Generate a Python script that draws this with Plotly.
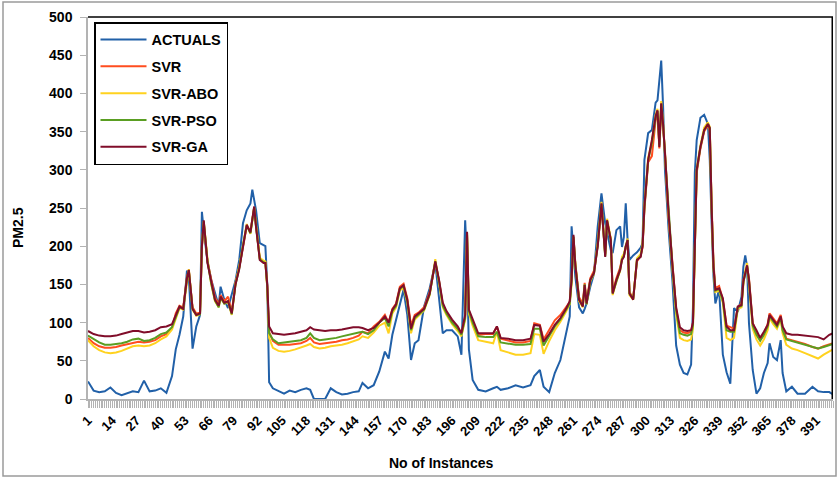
import plotly.graph_objects as go

# ---------------- data ----------------
instance = [
    1, 4, 7, 10, 13, 16, 19, 22, 25, 28, 31, 34, 37, 40, 43, 46,
    48, 50, 52, 54, 55, 57, 59, 61, 62, 63, 65, 67, 69, 71, 72, 74, 76, 78, 80, 82,
    84, 86, 88, 89, 90, 91, 93, 95, 96, 97, 98, 100,
    103, 106, 109, 112, 115, 118, 120, 122, 125, 128, 131, 134, 137, 140, 143, 146, 148, 151, 154, 157,
    160, 162, 164, 166, 168, 170, 172, 174, 176, 178, 181, 184, 187, 189, 191, 193, 196, 199, 201, 203,
    204, 205, 207, 210,
    214, 218, 220, 222, 226, 230, 234, 238, 240, 243, 245, 248, 251, 254, 257, 259,
    260, 261, 262, 264, 266, 267, 268, 270, 272, 274, 276, 278, 279, 281, 282, 284, 286, 287, 288, 289,
    290, 291, 293, 295, 297, 298, 299, 301, 303, 305, 306, 307, 308, 309, 310, 312, 314, 316, 318, 320,
    322, 324, 325, 326, 327, 329, 331, 333, 334, 335, 336, 337, 339, 341, 343, 345, 347, 349, 351, 352,
    353, 354, 355, 357, 359, 361, 363, 365, 366, 368, 370, 372, 373, 375, 378, 381, 385, 389, 392, 395,
    398, 400,
]

actuals = [
    23, 11, 9, 10, 15, 8, 5, 7, 10, 9, 24, 10, 11, 14, 8, 30,
    65, 84, 108, 168, 160, 66, 95, 110, 245, 220, 180, 156, 139, 122, 147, 130, 119, 139, 155, 182,
    230, 247, 256, 274, 262, 247, 204, 202, 200, 150, 22, 14,
    11, 7, 11, 9, 12, 14, 12, 0, 0, 0, 14, 9, 6, 7, 9, 10, 21, 14, 18, 36,
    62, 53, 84, 103, 125, 143, 110, 51, 73, 77, 121, 145, 178, 130, 86, 90, 90, 82, 58, 234,
    178, 65, 25, 12,
    10, 14, 16, 12, 14, 18, 15, 18, 30, 38, 16, 9, 34, 51, 86, 108,
    226, 186, 160, 120, 112, 118, 125, 147, 164, 226, 269, 230, 217, 195, 191, 221, 226, 199, 212, 256,
    208, 182, 188, 192, 198, 204, 313, 348, 352, 388, 391, 420, 443, 383, 300, 220, 155, 70, 45, 34,
    32, 45, 120, 296, 339, 368, 372, 360, 313, 230, 160, 125, 143, 58, 35, 20, 119, 114, 134, 173,
    188, 173, 99, 38, 7, 14, 34, 47, 73, 55, 51, 77, 34, 10, 16, 7, 7, 16, 10, 9,
    9, 6,
]

svr = [
    80, 73, 69, 67, 67, 68, 70, 72, 74, 75, 74, 75, 77, 82, 85, 93,
    112, 122, 120, 160, 168, 120, 112, 113, 198, 230, 180, 155, 133, 124, 136, 128, 134, 114, 152, 172,
    202, 226, 220, 233, 250, 226, 184, 180, 179, 148, 88, 76,
    71, 71, 71, 72, 73, 76, 80, 74, 72, 73, 74, 75, 77, 78, 80, 83, 88, 86, 95, 101,
    110, 100, 118, 125, 147, 151, 132, 96, 110, 113, 120, 140, 178, 155, 124, 113, 102, 92, 84, 108,
    215, 115, 100, 84,
    85, 85, 95, 79, 76, 74, 74, 76, 99, 97, 78, 90, 103, 110, 120, 127,
    162, 212, 178, 133, 125, 152, 128, 158, 168, 202, 252, 190, 230, 210, 140, 158, 172, 184, 188, 198,
    206, 140, 132, 180, 188, 198, 248, 310, 318, 365, 375, 328, 380, 355, 325, 238, 178, 118, 90, 87,
    86, 88, 100, 195, 296, 328, 350, 358, 352, 255, 178, 145, 148, 130, 96, 94, 92, 120, 125, 156,
    165, 172, 158, 100, 86, 78, 86, 98, 112, 105, 99, 110, 95, 79, 77, 75, 72, 68, 66, 69,
    71, 73,
]

svr_abo = [
    77, 69, 64, 61, 60, 61, 63, 66, 69, 70, 69, 70, 73, 78, 82, 91,
    106, 119, 117, 157, 170, 117, 109, 111, 202, 233, 183, 150, 128, 120, 132, 125, 127, 110, 151, 173,
    203, 229, 216, 236, 251, 228, 185, 181, 180, 146, 80, 67,
    63, 62, 63, 65, 67, 70, 72, 68, 66, 67, 69, 70, 71, 73, 75, 78, 82, 80, 87, 96,
    100, 86, 112, 120, 142, 146, 126, 86, 104, 109, 116, 136, 183, 152, 120, 110, 98, 89, 82, 104,
    217, 112, 96, 77,
    75, 73, 88, 64, 61, 58, 58, 60, 85, 84, 59, 76, 90, 101, 114, 124,
    150, 210, 176, 128, 120, 148, 124, 154, 164, 204, 258, 188, 236, 210, 136, 154, 168, 186, 190, 202,
    210, 136, 130, 184, 190, 204, 254, 316, 336, 372, 380, 335, 390, 362, 320, 236, 170, 110, 80, 77,
    76, 78, 92, 198, 302, 332, 355, 362, 356, 248, 170, 140, 142, 126, 80, 77, 80, 118, 120, 150,
    168, 178, 152, 92, 78, 70, 78, 90, 106, 98, 92, 104, 86, 71, 66, 64, 60, 56, 53, 58,
    62, 65,
]

svr_pso = [
    83, 78, 74, 71, 71, 72, 73, 75, 78, 79, 76, 77, 80, 85, 87, 94,
    108, 120, 118, 158, 168, 118, 110, 111, 200, 232, 180, 151, 129, 120, 133, 125, 128, 111, 150, 171,
    201, 227, 217, 234, 251, 226, 183, 179, 178, 147, 86, 78,
    73, 74, 75, 76, 77, 80, 86, 80, 77, 78, 79, 80, 82, 84, 85, 87, 88, 85, 90, 100,
    106, 95, 115, 122, 144, 148, 128, 90, 106, 110, 117, 137, 180, 154, 122, 112, 100, 92, 84, 106,
    218, 115, 100, 82,
    81, 81, 88, 74, 72, 71, 71, 72, 92, 92, 70, 82, 95, 104, 116, 125,
    155, 213, 176, 130, 122, 150, 124, 155, 165, 201, 255, 187, 233, 208, 138, 155, 169, 183, 187, 200,
    208, 138, 131, 182, 187, 201, 251, 312, 335, 368, 377, 332, 386, 358, 322, 238, 174, 116, 86, 84,
    83, 85, 96, 198, 299, 330, 352, 360, 354, 250, 172, 142, 144, 128, 90, 88, 88, 120, 122, 153,
    166, 174, 155, 96, 84, 76, 84, 95, 108, 101, 95, 106, 90, 78, 76, 74, 71, 68, 66, 68,
    70, 72,
]

svr_ga = [
    89, 85, 83, 82, 82, 83, 85, 87, 89, 89, 87, 88, 90, 94, 95, 98,
    110, 121, 118, 158, 169, 118, 110, 112, 200, 234, 178, 152, 130, 122, 134, 126, 128, 112, 150, 170,
    200, 228, 218, 235, 252, 225, 182, 178, 178, 150, 95, 86,
    85, 84, 85, 86, 88, 90, 94, 91, 90, 89, 90, 90, 91, 93, 94, 94, 93, 90, 93, 100,
    108, 100, 117, 124, 145, 149, 130, 92, 108, 112, 118, 138, 180, 156, 126, 115, 104, 95, 86, 110,
    219, 117, 104, 86,
    86, 86, 95, 80, 79, 77, 77, 79, 97, 96, 75, 85, 97, 106, 118, 128,
    156, 215, 175, 130, 121, 149, 125, 156, 165, 200, 256, 186, 234, 208, 138, 156, 169, 182, 186, 200,
    208, 138, 130, 182, 186, 200, 252, 313, 339, 370, 378, 330, 387, 360, 322, 240, 175, 120, 94, 90,
    89, 90, 100, 200, 300, 330, 352, 360, 355, 250, 173, 143, 145, 132, 95, 90, 90, 121, 123, 154,
    167, 175, 156, 99, 90, 80, 88, 97, 110, 103, 97, 108, 95, 86, 84, 84, 83, 82, 81, 78,
    84, 86,
]

x_tick_labels = ["1", "14", "27", "40", "53", "66", "79", "92", "105", "118", "131", "144",
                 "157", "170", "183", "196", "209", "222", "235", "248", "261", "274", "287",
                 "300", "313", "326", "339", "352", "365", "378", "391"]
y_tick_values = [0, 50, 100, 150, 200, 250, 300, 350, 400, 450, 500]

for name, arr in [("actuals", actuals), ("svr", svr), ("svr_abo", svr_abo),
                  ("svr_pso", svr_pso), ("svr_ga", svr_ga)]:
    if len(arr) != len(instance):
        raise ValueError(f"{name}: {len(arr)} vs {len(instance)}")

# ---------------- figure ----------------
FONT = "Liberation Sans, Arial, sans-serif"
W, H = 838, 478
ML, MR, MT, MB = 88, 5, 17, 79
PW, PH = W - ML - MR, H - MT - MB


def px_x(p):
    return (p - ML) / PW


def px_y(p):
    return (H - MB - p) / PH


series = [
    ("ACTUALS", actuals, "#2160a8"),
    ("SVR", svr, "#ff4d1f"),
    ("SVR-ABO", svr_abo, "#ffd21f"),
    ("SVR-PSO", svr_pso, "#5a9e22"),
    ("SVR-GA", svr_ga, "#800d2a"),
]

fig = go.Figure()
for i, (name, vals, col) in enumerate(series):
    fig.add_trace(go.Scatter(
        x=instance, y=vals, mode="lines", name=name,
        line=dict(color=col, width=2),
        legendgroup=f"g{i}",
    ))

fig.update_layout(
    width=W, height=H,
    margin=dict(l=ML, r=MR, t=MT, b=MB),
    paper_bgcolor="white", plot_bgcolor="white",
    font=dict(family=FONT, color="black"),
    showlegend=True,
    legend=dict(
        x=px_x(94), y=px_y(22), xanchor="left", yanchor="top",
        bgcolor="white", bordercolor="black", borderwidth=1.5,
        font=dict(family=FONT, size=14.5, color="black", weight="bold"),
        traceorder="grouped", tracegroupgap=5, itemwidth=46,
    ),
    xaxis=dict(
        range=[1, 400], showgrid=False, zeroline=False,
        showline=True, linecolor="#b3b3b3", linewidth=1.5,
        tickmode="array",
        tickvals=[int(v) for v in x_tick_labels], ticktext=x_tick_labels,
        tickangle=-45, ticks="outside", ticklen=7, tickcolor="#b3b3b3", tickwidth=1,
        tickfont=dict(family=FONT, size=13, color="black", weight="bold"),
        minor=dict(ticks="outside", dtick=1, tick0=1, ticklen=7, tickcolor="#b3b3b3", tickwidth=1),
    ),
    yaxis=dict(
        range=[0, 500], showgrid=False, zeroline=False,
        showline=True, linecolor="#b3b3b3", linewidth=1.5,
        tickmode="array", tickvals=y_tick_values,
        ticks="outside", ticklen=6, tickcolor="#b3b3b3", tickwidth=1,
        ticklabelstandoff=5,
        tickfont=dict(family=FONT, size=14, color="black", weight="bold"),
    ),
    shapes=[
        dict(type="rect", xref="paper", yref="paper",
             x0=px_x(3), x1=px_x(836), y0=px_y(476), y1=px_y(2),
             line=dict(color="#9a9a9a", width=1.5), fillcolor="rgba(0,0,0,0)", layer="below"),
        dict(type="line", xref="paper", yref="paper", x0=0, x1=1, y0=1, y1=1,
             line=dict(color="black", width=1.5)),
        dict(type="line", xref="paper", yref="paper", x0=0.999, x1=0.999, y0=0, y1=1,
             line=dict(color="black", width=1.5)),
    ],
    annotations=[
        dict(text="No of Instances", xref="paper", yref="paper",
             x=px_x(441), y=px_y(463), xanchor="center", yanchor="middle", showarrow=False,
             font=dict(family=FONT, size=14, color="black", weight="bold")),
        dict(text="PM2.5", xref="paper", yref="paper",
             x=px_x(18), y=px_y(228), xanchor="center", yanchor="middle",
             showarrow=False, textangle=-90,
             font=dict(family=FONT, size=14, color="black", weight="bold")),
    ],
)

fig.write_html(
    "out.html",
    config={"displayModeBar": False},
    post_script="document.body.style.margin='0';document.body.style.overflow='hidden';",
)
